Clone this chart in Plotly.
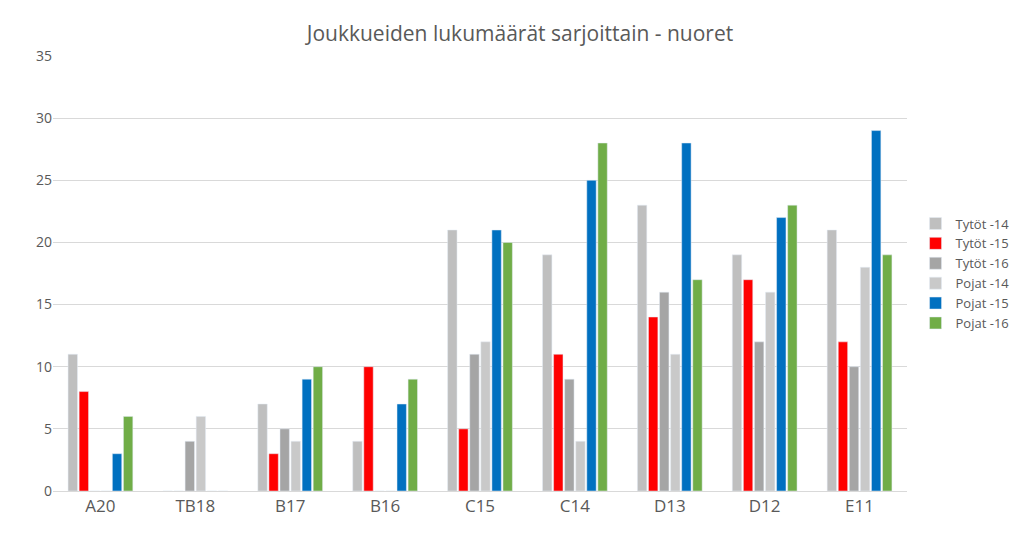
import plotly.graph_objects as go

# series classes
categories = ["A20", "TB18", "B17", "B16", "C15", "C14", "D13", "D12", "E11"]

tytot_14 = [11, 0, 7, 4, 21, 19, 23, 19, 21]
tytot_15 = [8, 0, 3, 10, 5, 11, 14, 17, 12]
tytot_16 = [0, 4, 5, 0, 11, 9, 16, 12, 10]
pojat_14 = [0, 6, 4, 0, 12, 4, 11, 16, 18]
pojat_15 = [3, 0, 9, 7, 21, 25, 28, 22, 29]
pojat_16 = [6, 0, 10, 9, 20, 28, 17, 23, 19]

series = [
    ("Tytöt -14", tytot_14, "#bfbfbf"),
    ("Tytöt -15", tytot_15, "#ff0000"),
    ("Tytöt -16", tytot_16, "#a5a5a5"),
    ("Pojat -14", pojat_14, "#c9c9c9"),
    ("Pojat -15", pojat_15, "#0070c0"),
    ("Pojat -16", pojat_16, "#70ad47"),
]

fig = go.Figure()
for name, vals, color in series:
    fig.add_trace(go.Bar(x=categories, y=vals, name=name, marker_color=color))

fig.update_layout(
    width=1024, height=536,
    title=dict(text="Joukkueiden lukumäärät sarjoittain - nuoret", x=0.5, y=0.952,
               yanchor="middle",
               font=dict(size=21, color="#595959", family="Open Sans")),
    barmode="group", bargap=0.3, bargroupgap=0.15,
    plot_bgcolor="white", paper_bgcolor="white",
    margin=dict(l=45, r=125, t=48, b=53),
    font=dict(family="Open Sans", color="#595959"),
    legend=dict(x=1.01, y=0.5, yanchor="middle", font=dict(size=13),
                itemwidth=30, tracegroupgap=4),
    yaxis=dict(range=[0, 35], dtick=5, gridcolor="#d9d9d9", zeroline=False,
               tickfont=dict(size=14), ticklen=0),
    xaxis=dict(tickfont=dict(size=17), showline=True, linecolor="#d9d9d9"),
)

fig.write_html("out.html")
